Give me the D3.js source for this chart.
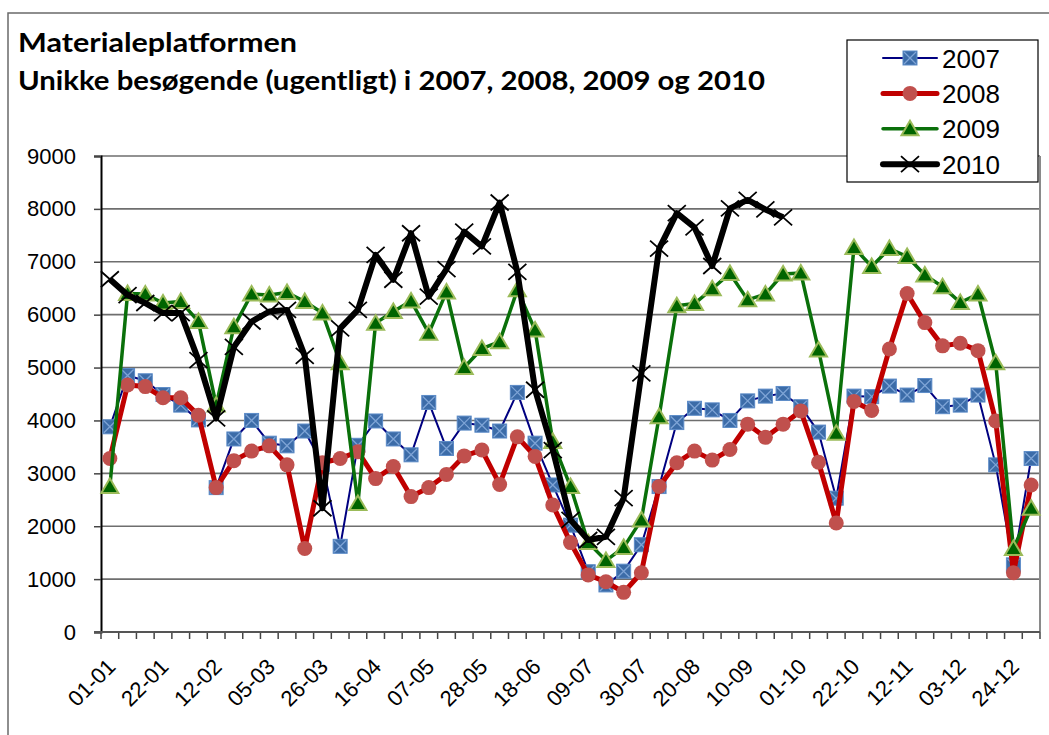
<!DOCTYPE html>
<html>
<head>
<meta charset="utf-8">
<script src="https://cdn.jsdelivr.net/npm/d3@7"></script>
<style>
    body { margin: 0; background: #fff; }
    .axis text { font-family: "Liberation Sans", Arial, sans-serif; fill: #000; }
    .title { font-family: Lato, "Open Sans", sans-serif; font-weight: bold; fill: #000; }
    .legend text { font-family: "Liberation Sans", Arial, sans-serif; fill: #000; }
</style>
</head>
<body>
<div id="chart"></div>
<script>

// weeks (2007 calendar, one point per week)
let weeks = ["01-01","08-01","15-01","22-01","29-01","05-02","12-02","19-02","26-02","05-03",
    "12-03","19-03","26-03","02-04","09-04","16-04","23-04","30-04","07-05","14-05",
    "21-05","28-05","04-06","11-06","18-06","25-06","02-07","09-07","16-07","23-07",
    "30-07","06-08","13-08","20-08","27-08","03-09","10-09","17-09","24-09","01-10",
    "08-10","15-10","22-10","29-10","05-11","12-11","19-11","26-11","03-12","10-12",
    "17-12","24-12","31-12"];

// only every third week gets a label
let weekTicks = weeks.filter((d, i) => i % 3 === 0);

let yTicks = [0, 1000, 2000, 3000, 4000, 5000, 6000, 7000, 8000, 9000];

let seriesNames = ["2007", "2008", "2009", "2010"];

let visits2007 = [3880, 4850, 4750, 4490, 4290, 4010, 2730, 3650, 4000, 3570,
    3520, 3800, 3170, 1620, 3530, 3990, 3650, 3350, 4340, 3470,
    3950, 3910, 3800, 4530, 3570, 2780, 2020, 1140, 890, 1150,
    1650, 2750, 3960, 4230, 4200, 4000, 4370, 4460, 4510, 4260,
    3780, 2530, 4460, 4450, 4650, 4480, 4660, 4260, 4290, 4480,
    3160, 1270, 3280];

let visits2008 = [3280, 4670, 4640, 4430, 4430, 4100, 2730, 3240, 3420, 3520,
    3160, 1580, 3200, 3280, 3410, 2900, 3130, 2560, 2730, 2980,
    3330, 3440, 2790, 3690, 3320, 2400, 1690, 1080, 950, 750,
    1120, 2750, 3200, 3420, 3250, 3450, 3930, 3680, 3930, 4180,
    3210, 2060, 4360, 4190, 5350, 6400, 5850, 5410, 5460, 5320,
    3990, 1120, 2780];

let visits2009 = [2750, 6400, 6390, 6220, 6250, 5870, 4290, 5770, 6390, 6370,
    6420, 6250, 6030, 5090, 2430, 5840, 6060, 6260, 5650, 6430,
    5000, 5360, 5490, 6470, 5710, 3600, 2750, 1690, 1350, 1600,
    2120, 4070, 6170, 6210, 6490, 6780, 6280, 6390, 6770, 6790,
    5330, 3760, 7270, 6910, 7250, 7100, 6750, 6530, 6230, 6390,
    5090, 1580, 2340];

// 2010 only runs until end of september
let visits2010 = [6670, 6370, 6220, 6030, 6030, 5140, 4040, 5390, 5870, 6060,
    6090, 5220, 2340, 5740, 6090, 7130, 6660, 7540, 6340, 6860,
    7570, 7290, 8120, 6810, 4580, 3440, 2120, 1740, 1800, 2530,
    4890, 7250, 7920, 7650, 6920, 8010, 8170, 7990, 7840];


class WeeklyVis {

    constructor(parentElement) {
        this.parentElement = parentElement;

        // one style per year
        this.styles = [
            {values: visits2007, line: "#000080", width: 2, marker: "square"},
            {values: visits2008, line: "#c00000", width: 5, marker: "circle"},
            {values: visits2009, line: "#0a700a", width: 3.5, marker: "triangle"},
            {values: visits2010, line: "#000000", width: 6, marker: "cross"}
        ];

        this.initVis();
    }

    initVis() {
        let vis = this;

        vis.width = 1049;
        vis.height = 735;
        vis.plot = {left: 101, right: 1040, top: 156, bottom: 632};

        vis.svg = d3.select("#" + vis.parentElement).append("svg")
            .attr("width", vis.width)
            .attr("height", vis.height);

        vis.svg.append("rect")
            .attr("width", vis.width)
            .attr("height", vis.height)
            .attr("fill", "#fff");

        // outer chart frame
        vis.svg.append("rect")
            .attr("x", 8)
            .attr("y", 13)
            .attr("width", vis.width + 20)
            .attr("height", vis.height + 20)
            .attr("fill", "none")
            .attr("stroke", "#6a6a6a")
            .attr("stroke-width", 1.5);

        // title
        let title = vis.svg.append("g").attr("class", "title");
        title.append("text")
            .attr("x", 18).attr("y", 52)
            .attr("font-size", 26)
            .attr("textLength", 279)
            .attr("lengthAdjust", "spacingAndGlyphs")
            .text("Materialeplatformen");
        title.append("text")
            .attr("x", 18).attr("y", 90)
            .attr("font-size", 26)
            .attr("textLength", 747)
            .attr("lengthAdjust", "spacingAndGlyphs")
            .text("Unikke besøgende (ugentligt) i 2007, 2008, 2009 og 2010");

        vis.x = d3.scaleBand()
            .domain(weeks)
            .range([vis.plot.left, vis.plot.right]);

        vis.y = d3.scaleLinear()
            .domain([0, 9000])
            .range([vis.plot.bottom, vis.plot.top]);

        // gridlines
        vis.svg.append("g")
            .selectAll("line")
            .data(yTicks.filter(d => d > 0))
            .enter().append("line")
            .attr("x1", vis.plot.left)
            .attr("x2", vis.plot.right)
            .attr("y1", d => vis.y(d))
            .attr("y2", d => vis.y(d))
            .attr("stroke", "#6e6e6e")
            .attr("stroke-width", 1.6);

        // right border of plot area
        vis.svg.append("line")
            .attr("x1", vis.plot.right).attr("x2", vis.plot.right)
            .attr("y1", vis.plot.top).attr("y2", vis.plot.bottom)
            .attr("stroke", "#8a8a8a")
            .attr("stroke-width", 2);

        // y axis
        vis.yAxis = d3.axisLeft(vis.y)
            .tickValues(yTicks)
            .tickSize(7)
            .tickPadding(18)
            .tickFormat(d3.format("d"));

        vis.svg.append("g")
            .attr("class", "axis y-axis")
            .attr("transform", `translate(${vis.plot.left}, 0)`)
            .call(vis.yAxis)
            .call(g => g.select(".domain").attr("stroke", "#000").attr("stroke-width", 2))
            .call(g => g.selectAll(".tick line").attr("stroke", "#444").attr("stroke-width", 1.5))
            .call(g => g.selectAll("text").attr("font-size", 22));

        // x axis: boundary ticks
        let edges = weeks.map(d => vis.x(d)).concat([vis.plot.right]);
        vis.svg.append("g")
            .selectAll("line")
            .data(edges)
            .enter().append("line")
            .attr("x1", d => d).attr("x2", d => d)
            .attr("y1", vis.plot.bottom).attr("y2", vis.plot.bottom + 7)
            .attr("stroke", "#444")
            .attr("stroke-width", 1.5);

        vis.svg.append("line")
            .attr("x1", vis.plot.left - 7).attr("x2", vis.plot.right)
            .attr("y1", vis.plot.bottom).attr("y2", vis.plot.bottom)
            .attr("stroke", "#555")
            .attr("stroke-width", 2);

        // rotated week labels
        vis.svg.append("g")
            .attr("class", "axis x-axis")
            .selectAll("text")
            .data(weekTicks)
            .enter().append("text")
            .attr("transform", d => `translate(${vis.x(d) + vis.x.bandwidth() / 2 + 7}, 668) rotate(-45)`)
            .attr("text-anchor", "end")
            .attr("font-size", 22)
            .text(d => d);

        vis.line = d3.line()
            .defined(d => d != null)
            .x((d, i) => vis.x(weeks[i]) + vis.x.bandwidth() / 2)
            .y(d => vis.y(d));

        vis.legend = vis.svg.append("g").attr("class", "legend");

        vis.updateVis();
    }

    // draw one marker shape into a group
    drawMarker(g, type) {
        if (type === "square") {
            g.append("rect")
                .attr("x", -7).attr("y", -7)
                .attr("width", 14).attr("height", 14)
                .attr("fill", "#3c6ca8")
                .attr("stroke", "#5d8cc8")
                .attr("stroke-width", 1);
            g.append("path")
                .attr("d", "M-6,-6L6,6M6,-6L-6,6")
                .attr("stroke", "#7ea4d6")
                .attr("stroke-width", 1.3);
        } else if (type === "circle") {
            g.append("circle")
                .attr("r", 7.5)
                .attr("fill", "#c0504d");
        } else if (type === "triangle") {
            g.append("path")
                .attr("d", "M0,-8L8.5,6.5L-8.5,6.5Z")
                .attr("fill", "#006400")
                .attr("stroke", "#9bbb59")
                .attr("stroke-width", 2);
        } else {
            g.append("path")
                .attr("d", "M-9,-8L9,8M9,-8L-9,8")
                .attr("stroke", "#000")
                .attr("stroke-width", 1.8);
        }
    }

    updateVis() {
        let vis = this;

        vis.styles.forEach((s, k) => {
            let group = vis.svg.append("g").attr("class", "series s" + seriesNames[k]);

            group.append("path")
                .datum(s.values)
                .attr("d", vis.line)
                .attr("fill", "none")
                .attr("stroke", s.line)
                .attr("stroke-width", s.width)
                .attr("stroke-linejoin", "round");

            group.selectAll(".marker")
                .data(s.values.map((v, i) => ({week: weeks[i], value: v})))
                .enter().append("g")
                .attr("class", "marker")
                .attr("transform", d => `translate(${vis.x(d.week) + vis.x.bandwidth() / 2}, ${vis.y(d.value)})`)
                .each(function () {
                    vis.drawMarker(d3.select(this), s.marker);
                });
        });

        // legend box
        vis.legend.append("rect")
            .attr("x", 847).attr("y", 40)
            .attr("width", 191).attr("height", 142)
            .attr("fill", "#fff")
            .attr("stroke", "#000")
            .attr("stroke-width", 1.2);

        let items = vis.legend.selectAll(".item")
            .data(vis.styles)
            .enter().append("g")
            .attr("class", "item")
            .attr("transform", (d, i) => `translate(0, ${58 + i * 35.4})`);

        items.append("line")
            .attr("x1", 883).attr("x2", 937)
            .attr("stroke", d => d.line)
            .attr("stroke-width", d => d.width)
            .attr("stroke-linecap", "round");

        items.append("g")
            .attr("transform", "translate(910, 0)")
            .each(function (d) {
                vis.drawMarker(d3.select(this), d.marker);
            });

        items.append("text")
            .attr("x", 942)
            .attr("y", 9.5)
            .attr("font-size", 26)
            .text((d, i) => seriesNames[i]);
    }
}

new WeeklyVis("chart");

</script>
</body>
</html>
